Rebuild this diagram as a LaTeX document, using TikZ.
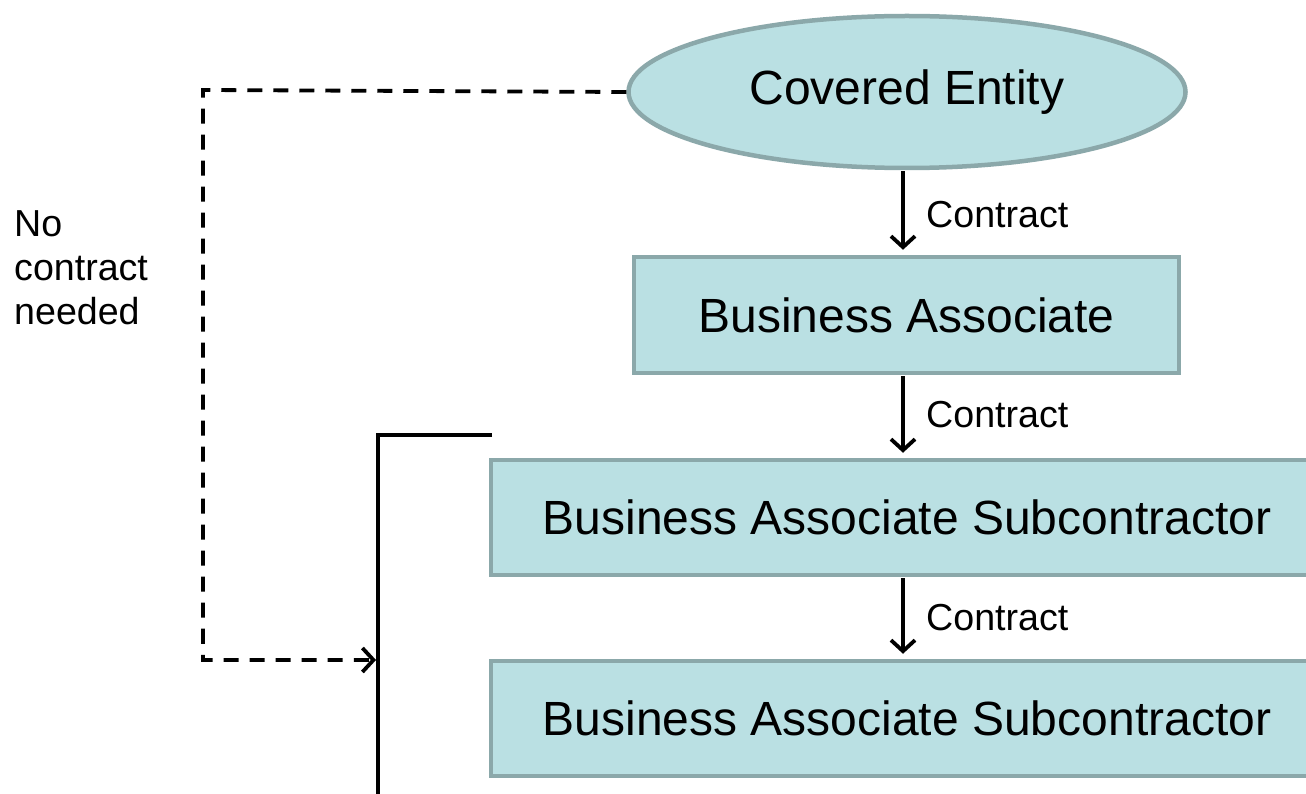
\documentclass[tikz,border=0pt]{standalone}
\usepackage{fontspec}
\setmainfont{Liberation Sans}
\usetikzlibrary{shapes.geometric,arrows.meta}
\definecolor{boxfill}{HTML}{BAE0E3}
\definecolor{boxline}{HTML}{8BA8AA}
\tikzset{
  entity/.style={ellipse,draw=boxline,fill=boxfill,line width=4.5pt,inner sep=0pt,
    minimum width=557pt,minimum height=152pt,font=\fontsize{48}{50}\selectfont},
  party/.style={rectangle,draw=boxline,fill=boxfill,line width=4.5pt,inner sep=0pt,
    font=\fontsize{48}{50}\selectfont},
  flow/.style={line width=3.8pt,-{Straight Barb[length=11pt,width=24pt,line width=3.8pt]}},
  nolink/.style={line width=3.8pt,dash pattern=on 15pt off 11pt,
    -{Straight Barb[length=11pt,width=24pt,line width=3.8pt]}},
  bracket/.style={line width=4pt},
  lbl/.style={font=\fontsize{37.6}{44}\selectfont,inner sep=0pt}
}
\begin{document}
\begin{tikzpicture}[x=1pt,y=-1pt]
  \clip (0,0) rectangle (1306,794);
  \fill[white] (0,0) rectangle (1306,794);

  % parties
  \node[entity] (ce) at (907,92) {Covered Entity};
  \node[party,minimum width=545pt,minimum height=116pt] (ba) at (906.5,315) {Business Associate};
  \node[party,minimum width=832pt,minimum height=115pt] (bs1) at (907,517.5) {Business Associate Subcontractor};
  \node[party,minimum width=832pt,minimum height=115pt] (bs2) at (907,718.5) {Business Associate Subcontractor};

  % contract arrows
  \draw[flow,shorten <=1pt,shorten >=5pt] ([xshift=-4pt]ce.south) -- ([xshift=-3.5pt]ba.north);
  \draw[flow,shorten <=1pt,shorten >=5pt] ([xshift=-3.5pt]ba.south) -- ([xshift=-4pt]bs1.north);
  \draw[flow,shorten <=1pt,shorten >=5pt] ([xshift=-4pt]bs1.south) -- ([xshift=-4pt]bs2.north);

  \node[lbl,anchor=west] (c1) at (926,215) {Contract};
  \node[lbl,anchor=west] (c2) at (926,415) {Contract};
  \node[lbl,anchor=west] (c3) at (926,618) {Contract};

  % bracket around the subcontractor chain
  \coordinate (btop) at (378,435);
  \coordinate (bend) at (492,435);
  \coordinate (bbot) at (378,800);
  \coordinate (hit) at (378,660);
  \draw[bracket] (bend) -- (btop) -- (bbot);

  % no contract needed
  \coordinate (nc1) at (203,90);
  \coordinate (nc2) at (203,660);
  \draw[nolink,shorten >=2pt] (ce.west) -- (nc1) -- (nc2) -- (hit);
  \node[lbl,align=left,anchor=west] (nc) at (14,268) {No\\contract\\needed};
\end{tikzpicture}
\end{document}
